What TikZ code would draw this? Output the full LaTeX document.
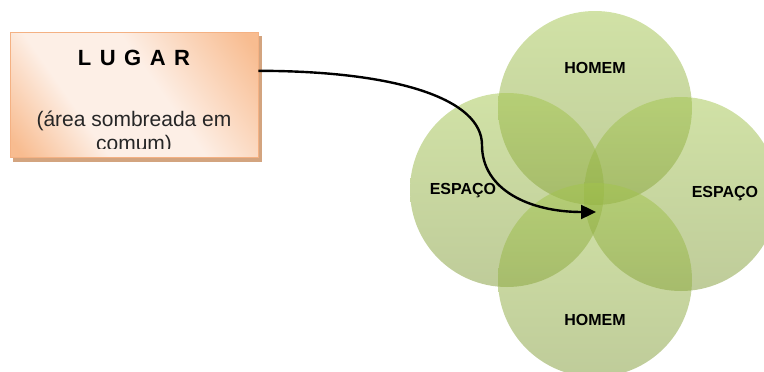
\documentclass[tikz,border=0pt]{standalone}
\usepackage{fontspec}
\setmainfont{Liberation Sans}
\usetikzlibrary{arrows.meta}

\definecolor{circtop}{HTML}{A3C54D}
\definecolor{circbot}{HTML}{7F9935}
\definecolor{laranja}{HTML}{F8BC90}
\definecolor{laranjaclaro}{HTML}{FDEFE6}
\definecolor{borda}{HTML}{F4B183}
\definecolor{sombra}{HTML}{D3A47F}

\pgfdeclarehorizontalshading{caixadiagonal}{100bp}{color(0bp)=(laranja); color(18bp)=(laranja); color(36bp)=(laranjaclaro); color(56bp)=(laranjaclaro); color(82bp)=(laranja); color(100bp)=(laranja)}

\tikzset{
	circulo/.style={top color=circtop, bottom color=circbot, fill opacity=0.5, draw=none},
	rotulo/.style={font=\fontsize{16}{18}\selectfont\bfseries, text=black},
	caixa/.style={draw=borda, line width=0.8pt, shading=caixadiagonal, shading angle=35},
	texto/.style={font=\fontsize{21}{24}\selectfont, text=black!85, anchor=base}
}

\begin{document}
\begin{tikzpicture}[x=1pt, y=-1pt]
			%%%%% START %%%%%
			\useasboundingbox (0, 0) rectangle (764, 372);
			
			\shade[circulo] (595, 108) circle [radius=97pt];
			\shade[circulo] (507, 190) circle [radius=97pt];
			\shade[circulo] (681, 194) circle [radius=97pt];
			\shade[circulo] (595, 280) circle [radius=97pt];
			
			\node[rotulo] (homemcima) at (595, 68) {HOMEM};
			\node[rotulo] (espacoesq) at (463, 191) {ESPAÇO};
			\node[rotulo] (espacodir) at (725, 194) {ESPAÇO};
			\node[rotulo] (homembaixo) at (595, 320) {HOMEM};
			
			\fill[sombra] (13, 36) rectangle (262, 162);
			\node[caixa, minimum width=248pt, minimum height=125pt] (lugar) at (134, 95) {};
			
			\begin{scope}
				\clip (10, 32) rectangle (258, 148);
				\node[texto, font=\fontsize{22}{26}\selectfont\bfseries, text=black] (titulo) at (134, 65) {\spaceskip=8.5pt L U G A R};
				\node[texto] (linha1) at (134, 126) {(área sombreada em};
				\node[texto] (linha2) at (134, 150) {comum)};
			\end{scope}
			
			\coordinate (centro) at (596, 212);
			\draw[line width=2.4pt, -{Triangle[length=15pt, width=14pt]}] (lugar.11)
				.. controls (400, 71) and (482, 100) .. (482, 145)
				.. controls (482, 190) and (530, 212) .. (centro);
			
			%%%%% END %%%%%
		\end{tikzpicture}
\end{document}
